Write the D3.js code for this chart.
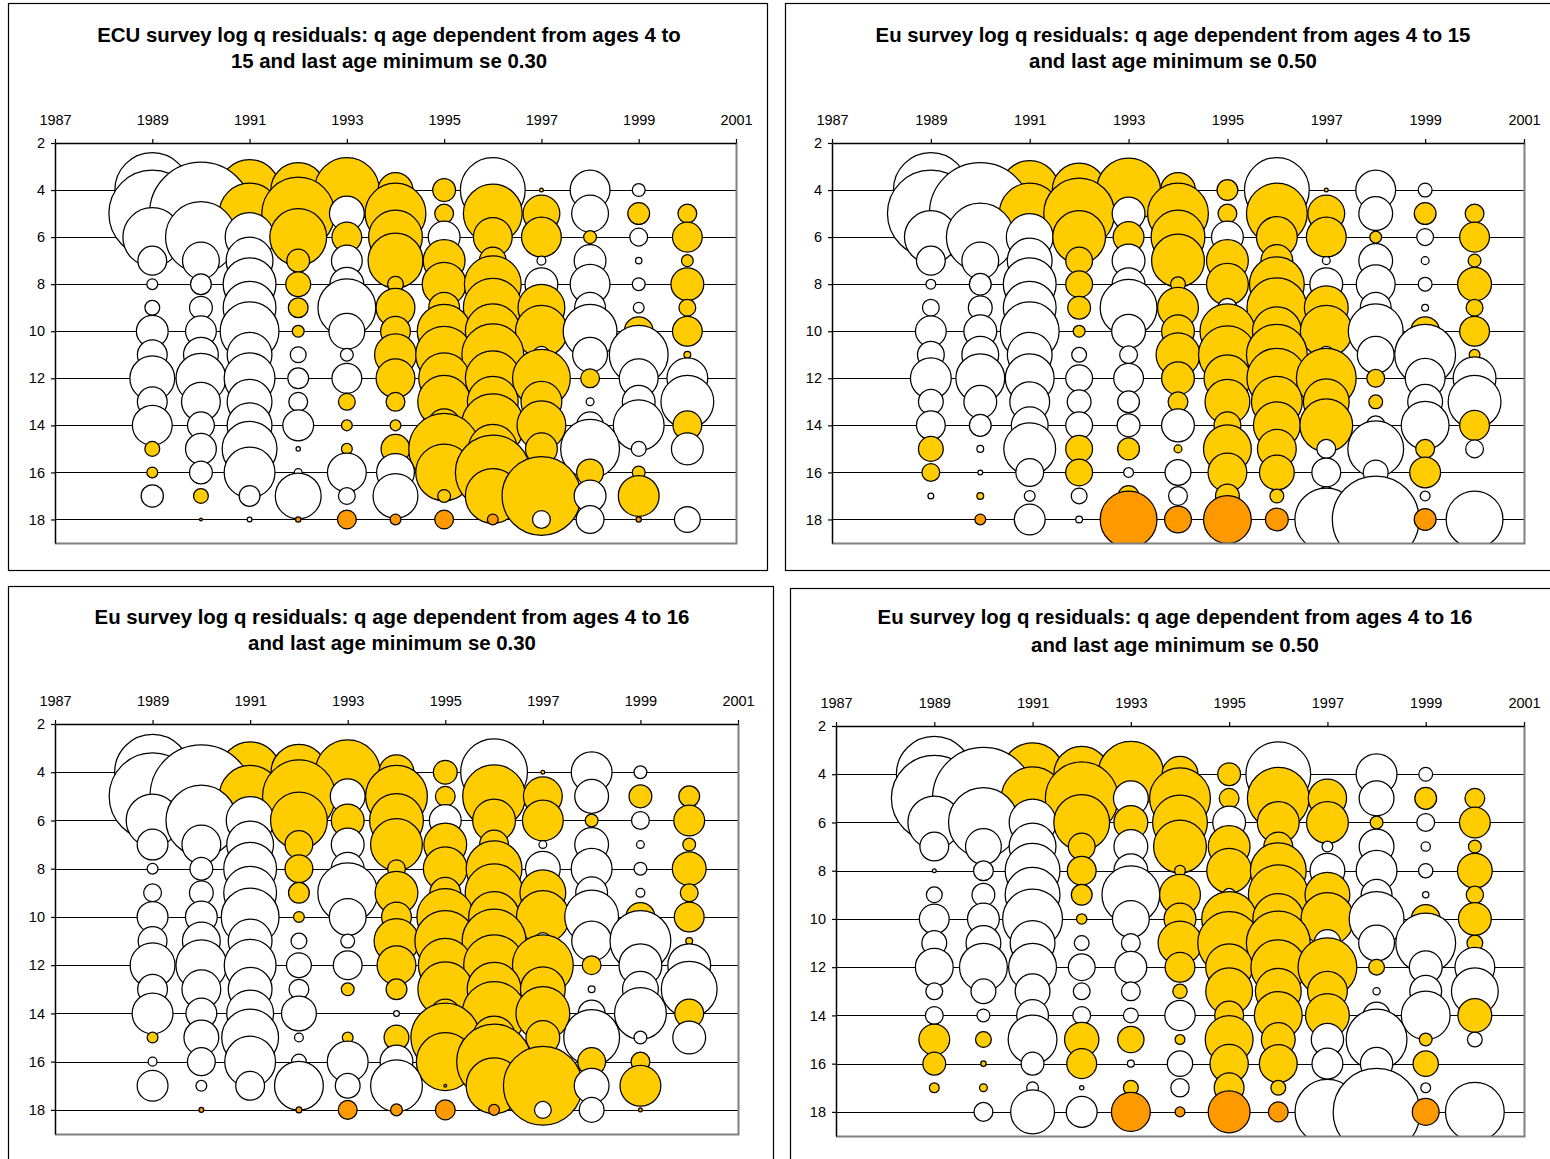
<!DOCTYPE html>
<html>
<head>
<meta charset="utf-8">
<script src="https://cdn.jsdelivr.net/npm/d3@7"></script>
<style>
  body { margin: 0; background: #fff; }
  svg { display: block; }
</style>
</head>
<body>
<svg id="chart" width="1550" height="1159"></svg>
<script>
// Survey years (bubble columns) and ages (bubble rows)
const years = [1989, 1990, 1991, 1992, 1993, 1994, 1995, 1996, 1997, 1998, 1999, 2000];
const ages = [4, 5, 6, 7, 8, 9, 10, 11, 12, 13, 14, 15, 16, 17, 18];
const xTickLabels = [1987, 1989, 1991, 1993, 1995, 1997, 1999, 2001];
const yTickLabels = [2, 4, 6, 8, 10, 12, 14, 16, 18];

// Log q residuals: one row per year, values for ages 4..18 (null = no bubble)
const ecuQ15Se030 = [
  [1.52, 1.76, 1.20, 0.60, 0.24, 0.32, 0.66, 0.62, 0.92, 0.62, 0.82, -0.32, -0.24, 0.47, null],
  [0.80, 2.08, 1.44, 0.76, 0.44, 0.48, 0.64, 0.72, 1.02, 0.80, 0.56, 0.64, 0.48, -0.32, -0.08],
  [-1.24, -1.24, 1.00, 0.96, 1.08, 1.08, 1.20, 0.92, 1.04, 0.92, 0.92, 1.12, 1.04, 0.44, 0.12],
  [-1.12, -1.48, -1.16, -0.48, -0.52, -0.42, -0.26, 0.34, 0.44, 0.40, 0.64, 0.11, 0.18, 0.94, -0.13],
  [-1.32, 0.72, -0.62, 0.64, 0.70, 1.18, 0.74, 0.28, 0.62, -0.36, -0.24, -0.24, 0.80, 0.36, -0.40],
  [-0.72, -1.24, -1.10, -1.12, -0.34, -0.80, -0.62, -0.86, -0.80, -0.40, -0.24, -0.60, 0.78, 0.92, -0.24],
  [-0.48, -0.40, 0.66, -0.86, -0.90, -0.64, -1.10, -1.16, -1.04, -1.08, -0.68, -1.44, -1.16, -0.28, -0.40],
  [1.32, -1.20, -0.80, -0.56, -1.16, -1.20, -1.12, -1.26, -1.12, -1.04, -1.28, -1.00, -1.52, -1.12, -0.24],
  [-0.10, -0.76, -0.82, 0.20, 0.68, -0.96, -1.06, 0.36, -1.18, -0.84, -1.00, -0.66, 0.48, -1.60, 0.38],
  [0.82, 0.76, -0.28, 0.66, 0.82, 0.64, 1.10, 0.72, -0.40, 0.18, 0.56, 1.20, -0.56, 0.66, 0.58],
  [0.28, -0.46, 0.38, 0.15, 0.28, 0.24, -0.60, 1.20, 0.80, 0.68, 1.04, 0.32, -0.28, -0.84, -0.13],
  [null, -0.40, -0.62, -0.26, -0.68, -0.36, -0.62, -0.16, 0.84, 1.08, -0.60, 0.66, null, null, 0.54]
];

const euQ15Se050 = [
  [1.52, 1.76, 1.08, 0.60, 0.22, 0.36, 0.64, 0.56, 0.84, 0.52, 0.60, -0.52, -0.38, 0.14, null],
  [0.80, 2.06, 1.38, 0.76, 0.46, 0.50, 0.68, 0.76, 1.00, 0.68, 0.46, 0.16, 0.12, -0.16, -0.24],
  [-1.20, -1.24, 0.96, 0.92, 1.08, 1.08, 1.20, 0.92, 1.00, 0.82, 0.76, 1.06, 0.58, 0.24, 0.64],
  [-1.10, -1.44, -1.08, -0.56, -0.56, -0.48, -0.26, 0.32, 0.56, 0.50, 0.56, -0.56, -0.56, 0.34, 0.16],
  [-1.30, 0.68, -0.64, 0.68, 0.68, 1.16, 0.70, 0.38, 0.62, 0.46, 0.48, -0.46, 0.22, -0.44, -1.16],
  [-0.72, -1.24, -1.10, -1.08, -0.32, -0.84, -0.68, -0.90, -0.68, -0.42, 0.68, -0.18, 0.54, 0.40, -0.56],
  [-0.44, -0.40, 0.66, -0.86, -0.86, 0.40, -1.12, -1.18, -0.96, -0.92, -0.56, -0.98, -0.80, -0.50, -0.98],
  [1.32, -1.24, -0.84, -0.66, -1.12, -1.22, -1.00, -1.24, -1.22, -1.04, -0.96, -0.80, -0.72, -0.30, -0.48],
  [-0.10, -0.76, -0.82, 0.18, 0.68, -0.90, -1.06, 0.36, -1.22, -0.94, -1.08, 0.40, 0.60, 0.40, 1.28],
  [0.82, 0.70, -0.26, 0.70, 0.80, 0.64, 1.12, 0.76, -0.38, -0.30, 0.40, 1.14, 0.52, 0.40, 1.76],
  [0.30, -0.46, 0.36, 0.18, 0.30, 0.16, -0.60, 1.24, 0.82, 0.72, 0.98, -0.40, -0.64, 0.22, -0.46],
  [null, -0.40, -0.62, -0.28, -0.70, -0.36, -0.62, -0.24, 0.88, 1.08, -0.62, 0.38, null, null, 1.16]
];

const euQ16Se030 = [
  [1.54, 1.76, 1.08, 0.64, 0.24, 0.38, 0.64, 0.60, 0.92, 0.62, 0.84, -0.24, 0.20, 0.64, null],
  [0.80, 2.08, 1.44, 0.80, 0.48, 0.50, 0.66, 0.78, 1.04, 0.80, 0.64, 0.72, 0.58, 0.24, -0.12],
  [-1.24, -1.26, 0.98, 0.96, 1.08, 1.08, 1.18, 0.90, 1.06, 0.90, 0.96, 1.16, 1.04, 0.60, null],
  [-1.14, -1.48, -1.16, -0.58, -0.58, -0.44, -0.24, 0.34, 0.52, 0.42, 0.72, 0.20, 0.32, 1.00, -0.14],
  [-1.32, 0.72, -0.68, 0.68, 0.68, 1.22, 0.76, 0.30, 0.60, -0.28, null, -0.24, 0.84, 0.52, -0.40],
  [-0.72, -1.26, -1.10, -1.06, -0.38, -0.88, -0.62, -0.92, -0.80, -0.44, 0.14, -0.52, 0.68, 1.06, -0.26],
  [-0.50, -0.42, 0.66, -0.88, -0.90, -0.64, -1.16, -1.24, -1.10, -1.12, -0.60, -1.40, -1.18, -0.08, -0.42],
  [1.36, -1.28, -0.88, -0.60, -1.14, -1.18, -1.04, -1.30, -1.24, -1.10, -1.30, -0.88, -1.52, -1.14, -0.24],
  [-0.10, -0.80, -0.84, 0.18, 0.72, -0.94, -1.08, 0.36, -1.24, -0.92, -1.10, -0.70, 0.40, -1.60, 0.36],
  [0.84, 0.70, -0.28, 0.70, 0.84, 0.66, 1.10, 0.82, -0.40, 0.16, 0.56, 1.14, -0.58, 0.72, 0.52],
  [0.28, -0.48, 0.38, 0.18, 0.28, 0.20, -0.60, 1.24, 0.88, 0.74, 1.06, 0.28, -0.40, -0.84, -0.10],
  [null, -0.44, -0.64, -0.28, -0.70, -0.38, -0.62, -0.16, 0.88, 1.14, -0.60, 0.68, null, null, null]
];

const euQ16Se050 = [
  [1.54, 1.74, 1.08, 0.60, 0.10, 0.34, 0.62, 0.52, 0.78, 0.36, 0.38, -0.64, -0.48, -0.22, null],
  [0.80, 2.06, 1.42, 0.74, 0.42, 0.48, 0.66, 0.72, 0.98, 0.52, 0.28, -0.34, -0.13, -0.18, 0.40],
  [-1.28, -1.28, 0.96, 0.96, 1.12, 1.12, 1.22, 0.92, 0.98, 0.72, 0.66, 1.00, 0.48, 0.26, 0.90],
  [-1.14, -1.48, -1.14, -0.56, -0.60, -0.44, -0.23, 0.32, 0.56, 0.36, 0.38, -0.71, -0.62, 0.11, 0.64],
  [-1.34, 0.72, -0.70, 0.70, 0.70, 1.18, 0.76, 0.40, 0.66, 0.40, 0.32, -0.55, 0.16, -0.32, -0.80],
  [-0.74, -1.24, -1.12, -1.08, -0.24, -0.84, -0.66, -0.90, -0.62, -0.31, 0.63, -0.22, 0.53, 0.39, -0.22],
  [-0.48, -0.42, 0.68, -0.86, -0.92, 0.28, -1.12, -1.28, -0.96, -0.96, -0.60, -0.98, -0.79, -0.62, -0.86],
  [1.32, -1.26, -0.86, -0.60, -1.14, -1.22, -1.04, -1.30, -1.12, -0.94, -0.98, -0.70, -0.78, -0.32, -0.42],
  [null, -0.79, -0.86, 0.24, 0.72, -0.92, -1.08, 0.56, -1.20, -0.82, -0.90, 0.67, 0.64, -0.24, 1.32],
  [0.84, 0.72, -0.28, 0.72, 0.84, 0.64, 1.12, 0.74, -0.34, 0.17, 0.56, 1.24, 0.67, 0.40, 1.76],
  [0.30, -0.46, 0.38, 0.21, 0.31, 0.15, -0.60, 1.22, 0.68, 0.66, 1.00, -0.28, -0.53, 0.22, -0.56],
  [null, -0.42, -0.64, -0.28, -0.72, -0.37, -0.68, -0.34, 0.82, 0.96, -0.70, 0.32, null, null, 1.20]
];

const panelTitles = [
  ["ECU survey log q residuals: q age dependent from ages 4 to", "15 and last age minimum se 0.30"],
  ["Eu survey log q residuals: q age dependent from ages 4 to 15", "and last age minimum se 0.50"],
  ["Eu survey log q residuals: q age dependent from ages 4 to 16", "and last age minimum se 0.30"],
  ["Eu survey log q residuals: q age dependent from ages 4 to 16", "and last age minimum se 0.50"]
];

// Layout of the four chart objects
const panels = [
  { data: ecuQ15Se030, title: panelTitles[0], frame: [8, 3, 759, 567], plot: [55, 143, 736, 543], titleX: 389, titleY: [42, 68] },
  { data: euQ15Se050, title: panelTitles[1], frame: [785, 3, 780, 567], plot: [832, 143, 1524, 543], titleX: 1173, titleY: [42, 68] },
  { data: euQ16Se030, title: panelTitles[2], frame: [8, 586, 765, 600], plot: [55, 724, 738, 1134], titleX: 392, titleY: [624, 650] },
  { data: euQ16Se050, title: panelTitles[3], frame: [790, 588, 780, 600], plot: [836, 726, 1524, 1136], titleX: 1175, titleY: [624, 652] }
];

const FONT = "'Liberation Sans', Arial, sans-serif";
const WHITE = "#ffffff", GOLD = "#ffcc00", ORANGE = "#ff9900";
const lastAge = ages[ages.length - 1];

// Bubble width is proportional to the absolute residual
const rScale = d3.scaleLinear().domain([0, 2]).range([0, 50]);

const svg = d3.select("#chart");

panels.forEach((p, i) => {
  const g = svg.append("g");
  const [px0, py0, px1, py1] = p.plot;

  // chart frame
  g.append("rect")
    .attr("x", p.frame[0] + 0.5).attr("y", p.frame[1] + 0.5)
    .attr("width", p.frame[2]).attr("height", p.frame[3])
    .attr("fill", "#fff").attr("stroke", "#000").attr("stroke-width", 1.2);

  // title
  g.selectAll("text.title").data(p.title).join("text")
    .attr("class", "title")
    .attr("x", p.titleX)
    .attr("y", (d, k) => p.titleY[k])
    .attr("text-anchor", "middle")
    .style("font-family", FONT).style("font-weight", "bold").style("font-size", "20.4px")
    .text(d => d);

  const x = d3.scaleLinear().domain([1987, 2001]).range([px0, px1]);
  const y = d3.scaleLinear().domain([2, 19]).range([py0, py1]);

  // horizontal gridlines
  g.selectAll("line.grid").data(yTickLabels.filter(t => t > 2)).join("line")
    .attr("class", "grid")
    .attr("x1", px0).attr("x2", px1)
    .attr("y1", d => Math.round(y(d)) + 0.5).attr("y2", d => Math.round(y(d)) + 0.5)
    .attr("stroke", "#000").attr("stroke-width", 1);

  // bubbles, drawn age by age so later ages sit on top
  const pts = [];
  ages.forEach((a, ai) => {
    years.forEach((yr, yi) => {
      const v = p.data[yi][ai];
      if (v !== null && v !== undefined) pts.push({ year: yr, age: a, v });
    });
  });

  const clipId = "plotClip" + i;
  g.append("clipPath").attr("id", clipId)
    .append("rect").attr("x", px0).attr("y", py0)
    .attr("width", px1 - px0).attr("height", py1 - py0);

  g.append("g").attr("clip-path", `url(#${clipId})`)
    .selectAll("circle").data(pts).join("circle")
    .attr("cx", d => x(d.year))
    .attr("cy", d => y(d.age))
    .attr("r", d => Math.max(rScale(Math.abs(d.v)) - 0.6, 0.8))
    .attr("fill", d => d.v >= 0 ? WHITE : (d.age === lastAge ? ORANGE : GOLD))
    .attr("stroke", "#000").attr("stroke-width", 1.25);

  // grey right and bottom plot-area edges
  g.append("path")
    .attr("d", `M${px1 + 0.5},${py0}V${py1 + 0.5}H${px0}`)
    .attr("fill", "none").attr("stroke", "#808080").attr("stroke-width", 2);

  // top year axis
  const xAxis = d3.axisTop(x).tickValues(xTickLabels).tickFormat(d3.format("d"))
    .tickSize(4).tickSizeOuter(0).tickPadding(14);
  const gx = g.append("g").attr("transform", `translate(0,${py0})`).call(xAxis);

  // left age axis
  const yAxis = d3.axisLeft(y).tickValues(yTickLabels).tickFormat(d3.format("d"))
    .tickSize(4).tickSizeOuter(0).tickPadding(6);
  const gy = g.append("g").attr("transform", `translate(${px0},0)`).call(yAxis);

  [gx, gy].forEach(ax => {
    ax.select(".domain").attr("stroke", "#000").attr("stroke-width", 1.5);
    ax.selectAll(".tick line").attr("stroke", "#000").attr("stroke-width", 1.2);
    ax.selectAll(".tick text")
      .style("font-family", FONT).style("font-size", "14.5px").attr("fill", "#000");
  });
});
</script>
</body>
</html>
